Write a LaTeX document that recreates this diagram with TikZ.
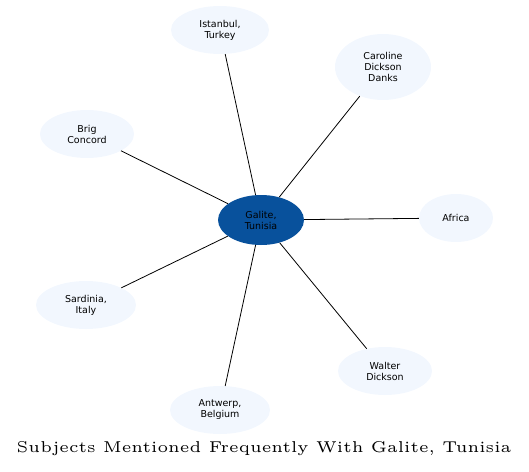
\documentclass[tikz,border=0pt]{standalone}
\usepackage{fontspec}
\setsansfont{DejaVu Sans}
\newfontfamily\titlefont{lmroman5-regular.otf}
\usetikzlibrary{shapes.geometric}
\definecolor{hubblue}{HTML}{08519C}
\definecolor{leafblue}{HTML}{F2F7FE}
\begin{document}
\begin{tikzpicture}[x=1pt,y=-1pt,
  leaf/.style={ellipse,fill=leafblue,draw=none,inner sep=0pt,align=center,font=\sffamily\fontsize{9.5}{11}\selectfont},
  hub/.style={ellipse,fill=hubblue,draw=none,inner sep=0pt,align=center,font=\sffamily\fontsize{9.5}{11}\selectfont},
  link/.style={draw=black,line width=0.8pt}]
\useasboundingbox (0,0) rectangle (529,471);
\node[hub,minimum width=86,minimum height=50] (g) at (261,220) {Galite,\\Tunisia};
\node[leaf,minimum width=98,minimum height=48] (ist) at (220,30) {Istanbul,\\Turkey};
\node[leaf,minimum width=96,minimum height=66] (car) at (383,67) {Caroline\\Dickson\\Danks};
\node[leaf,minimum width=94,minimum height=48] (brig) at (87,134) {Brig\\Concord};
\node[leaf,minimum width=74,minimum height=48] (afr) at (456,218) {Africa};
\node[leaf,minimum width=100,minimum height=48] (sar) at (86,305) {Sardinia,\\Italy};
\node[leaf,minimum width=94,minimum height=48] (wal) at (385,371) {Walter\\Dickson};
\node[leaf,minimum width=100,minimum height=48] (ant) at (220,410) {Antwerp,\\Belgium};
\foreach \n in {ist,car,brig,afr,sar,wal,ant} \draw[link] (g) -- (\n);
\node[font=\titlefont\fontsize{15.7}{18}\selectfont] (title) at (264,449) {Subjects Mentioned Frequently With Galite, Tunisia};
\end{tikzpicture}
\end{document}
